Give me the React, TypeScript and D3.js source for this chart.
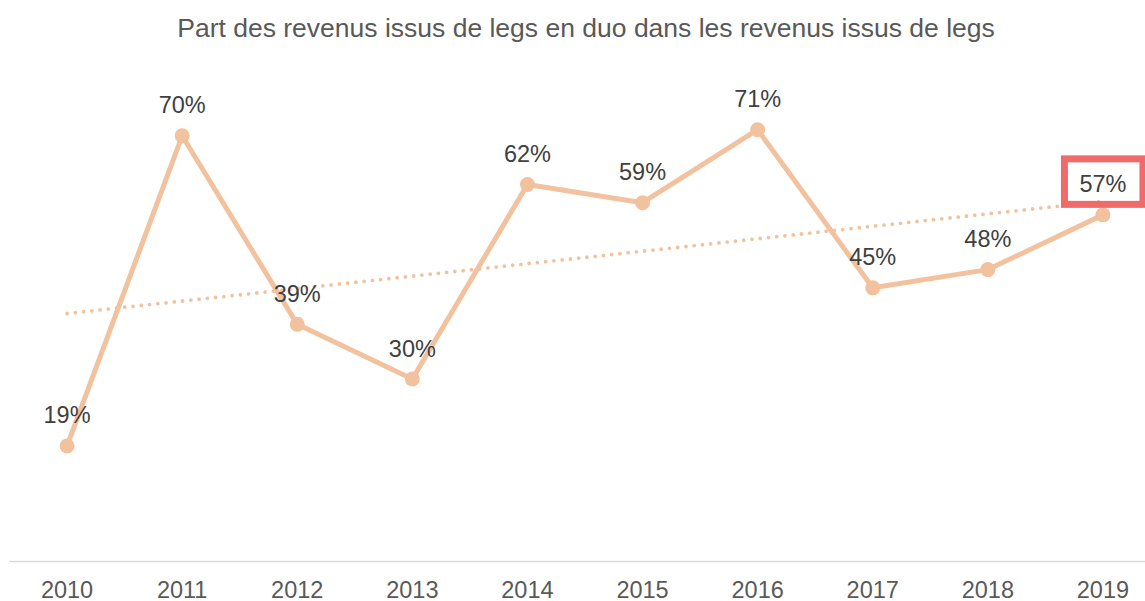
import React from "react";
import * as d3 from "d3";

const title = "Part des revenus issus de legs en duo dans les revenus issus de legs";
const years = ["2010", "2011", "2012", "2013", "2014", "2015", "2016", "2017", "2018", "2019"];
const shares = [0.19, 0.70, 0.39, 0.30, 0.62, 0.59, 0.71, 0.45, 0.48, 0.57];
const highlightYear = "2019";

const W = 1145;
const H = 601;
const FONT = "'Liberation Sans', Arial, Helvetica, sans-serif";
const LINE = "#f2c29f";

export default function App() {
  const x = d3.scaleBand<string>().domain(years).range([9.5, 1160.5]);
  const cx = (d: string) => (x(d) ?? 0) + x.bandwidth() / 2;
  const y = d3.scaleLinear().domain([0, 0.8]).range([561.5, 75]);

  const pts = years.map((yr, i) => ({ yr, v: shares[i], i }));
  const line = d3
    .line<{ yr: string; v: number }>()
    .x((d) => cx(d.yr))
    .y((d) => y(d.v));

  // linear regression trendline
  const n = shares.length;
  const mx = d3.mean(shares.map((_, i) => i)) as number;
  const my = d3.mean(shares) as number;
  const sxy = d3.sum(shares.map((v, i) => (i - mx) * (v - my)));
  const sxx = d3.sum(shares.map((_, i) => (i - mx) * (i - mx)));
  const slope = sxy / sxx;
  const icpt = my - slope * mx;
  const trend = [
    { yr: years[0], v: icpt },
    { yr: years[n - 1], v: icpt + slope * (n - 1) },
  ];

  const fmt = d3.format(".0%");
  const hi = pts.find((p) => p.yr === highlightYear)!;
  const hx = cx(hi.yr);
  const hy = y(hi.v) - 22;

  return (
    <svg width={W} height={H} style={{ position: "absolute", left: 0, top: 0, background: "#fff" }} fontFamily={FONT}>
      <text x={586} y={36.5} textAnchor="middle" fontSize={26.5} fill="#595959">
        {title}
      </text>
      <line x1={9.5} x2={1160} y1={561.5} y2={561.5} stroke="#d9d9d9" strokeWidth={1.5} />
      {years.map((yr) => (
        <text key={yr} x={cx(yr)} y={597.5} textAnchor="middle" fontSize={23.5} fill="#595959">
          {yr}
        </text>
      ))}
      <path d={line(pts) ?? ""} fill="none" stroke={LINE} strokeWidth={5} strokeLinejoin="round" />
      <path
        d={line(trend) ?? ""}
        fill="none"
        stroke={LINE}
        strokeWidth={3.8}
        strokeDasharray="0 8.3"
        strokeLinecap="round"
      />
      {pts.map((p) => (
        <circle key={p.yr} cx={cx(p.yr)} cy={y(p.v)} r={7.5} fill={LINE} />
      ))}
      {pts.map((p) => (
        <text key={p.yr} x={cx(p.yr)} y={y(p.v) - 22.5} textAnchor="middle" fontSize={23.5} fill="#404040">
          {fmt(p.v)}
        </text>
      ))}
      <rect
        x={hx - 38.5}
        y={hy - 34}
        width={78.5}
        height={45.5}
        fill="none"
        stroke="#f06a6a"
        strokeWidth={7}
      />
    </svg>
  );
}
